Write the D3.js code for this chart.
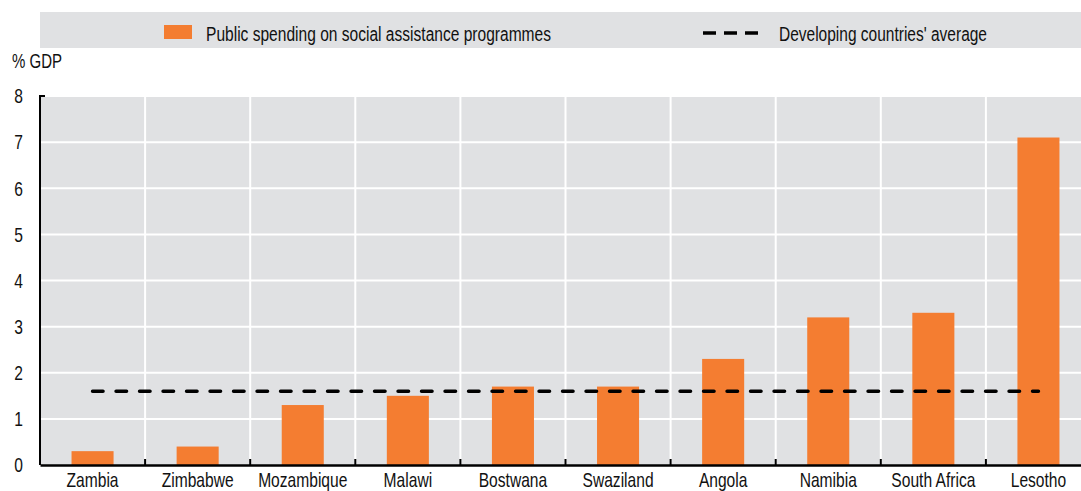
<!DOCTYPE html>
<html><head><meta charset="utf-8">
<script src="https://cdn.jsdelivr.net/npm/d3@7"></script>
<style>
body{margin:0;background:#fff;}
text{font-family:"Liberation Sans",Arial,sans-serif;fill:#111;}
</style></head>
<body><svg id="c" width="1081" height="491"></svg>
<script>
const categories = ["Zambia","Zimbabwe","Mozambique","Malawi","Bostwana","Swaziland","Angola","Namibia","South Africa","Lesotho"];
const spending = [0.3,0.4,1.3,1.5,1.7,1.7,2.3,3.2,3.3,7.1];
const developingAverage = [1.6,1.6,1.6,1.6,1.6,1.6,1.6,1.6,1.6,1.6];
const yTicks = [0,1,2,3,4,5,6,7,8];
const seriesNames = ["Public spending on social assistance programmes","Developing countries' average"];

(function(){
const svg = d3.select("#c");
const pL = 40, pR = 1091, pT = 96, pB = 465;
const SX = 0.78;
const x = d3.scaleBand().domain(categories).range([pL,pR]).paddingInner(0.6).paddingOuter(0.3);
const xb = d3.scaleBand().domain(categories).range([pL,pR]);
const y = d3.scaleLinear().domain([0,8]).range([pB,pT]);
const orange = "#f47d31", grey = "#e0e1e3";

// legend
svg.append("rect").attr("x",40).attr("y",12).attr("width",1041).attr("height",36).attr("fill",grey);
svg.append("rect").attr("x",164).attr("y",25).attr("width",28).attr("height",14).attr("fill",orange);
svg.append("text").attr("x",206).attr("y",41).attr("font-size",20)
  .attr("textLength",345).attr("lengthAdjust","spacingAndGlyphs").text(seriesNames[0]);
svg.append("line").attr("x1",703).attr("x2",764).attr("y1",33).attr("y2",33)
  .attr("stroke","#000").attr("stroke-width",3.5).attr("stroke-dasharray","13,8");
svg.append("text").attr("x",779).attr("y",41).attr("font-size",20)
  .attr("textLength",208).attr("lengthAdjust","spacingAndGlyphs").text(seriesNames[1]);

// axis title
svg.append("text").attr("x",12).attr("y",68).attr("font-size",20)
  .attr("textLength",50).attr("lengthAdjust","spacingAndGlyphs").text("% GDP");

// plot background
svg.append("rect").attr("x",pL).attr("y",pT).attr("width",pR-pL).attr("height",pB-pT).attr("fill",grey);

// gridlines
svg.append("g").selectAll("line").data(yTicks.filter(d=>d>0)).join("line")
  .attr("x1",pL).attr("x2",pR).attr("y1",d=>y(d)).attr("y2",d=>y(d))
  .attr("stroke","#fff").attr("stroke-width",2);
svg.append("g").selectAll("line").data(categories.slice(1)).join("line")
  .attr("x1",d=>xb(d)).attr("x2",d=>xb(d)).attr("y1",pT).attr("y2",pB)
  .attr("stroke","#fff").attr("stroke-width",2);

// bars
svg.append("g").selectAll("rect").data(categories).join("rect")
  .attr("x",d=>x(d)).attr("width",x.bandwidth())
  .attr("y",(d,i)=>y(spending[i])).attr("height",(d,i)=>y(0)-y(spending[i]))
  .attr("fill",orange);

// average line
const line = d3.line().x(d=>xb(d)+xb.bandwidth()/2).y((d,i)=>y(developingAverage[i]));
svg.append("path").attr("d",line(categories)).attr("fill","none")
  .attr("stroke","#000").attr("stroke-width",3.5).attr("stroke-dasharray","10.5,13").attr("stroke-linecap","round");

// y axis
const yAxis = svg.append("g").attr("transform",`translate(${pL},0)`)
  .call(d3.axisLeft(y).tickValues(yTicks).tickSize(0).tickPadding(17));
yAxis.select(".domain").attr("stroke","#000").attr("stroke-width",2).attr("d",`M5,${pT}H0V${pB}`);
yAxis.selectAll("text").attr("font-size",20).attr("font-family",null).attr("fill","#111")
  .attr("x",0).attr("dy","0.34em").attr("transform",`translate(-17,0) scale(${SX},1)`);

// x axis
const xAxis = svg.append("g").attr("transform",`translate(0,${pB})`)
  .call(d3.axisBottom(xb).tickSize(0).tickPadding(8));
xAxis.select(".domain").attr("stroke","#000").attr("stroke-width",2.5);
xAxis.selectAll("text").attr("font-size",20).attr("font-family",null).attr("fill","#111")
  .attr("y",22).attr("dy",null).attr("transform",`scale(${SX},1)`);
svg.append("g").selectAll("line").data(categories.slice(1)).join("line")
  .attr("x1",d=>xb(d)).attr("x2",d=>xb(d)).attr("y1",pB-6).attr("y2",pB)
  .attr("stroke","#000").attr("stroke-width",2);
})();
</script></body></html>
